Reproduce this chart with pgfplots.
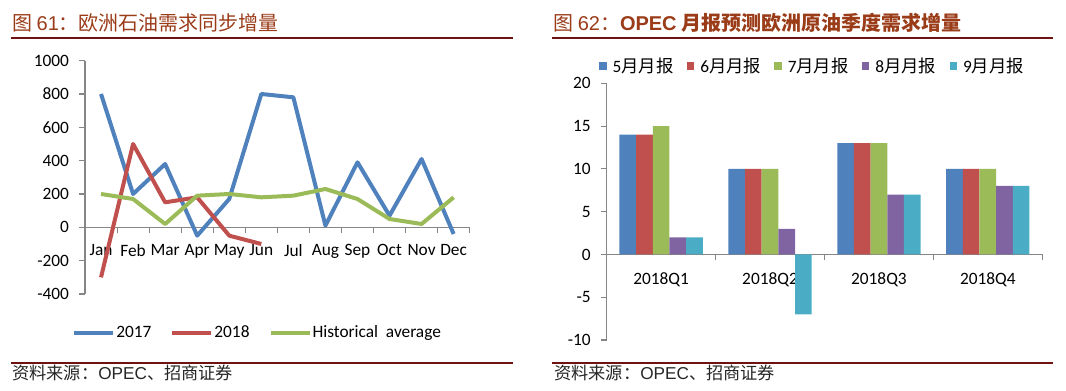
\documentclass[border=0pt]{standalone}
\usepackage{pgfplots}
\pgfplotsset{compat=1.18}
\usepackage{fontspec}
\setmainfont{Carlito}
\newfontfamily\cjk{Noto Sans CJK SC}
\newfontfamily\arial{Liberation Sans}
\definecolor{titlered}{RGB}{155,60,25}
\definecolor{rulered}{RGB}{112,18,18}
\definecolor{axgray}{RGB}{134,134,134}
\definecolor{cblue}{RGB}{79,129,189}
\definecolor{cred}{RGB}{192,80,77}
\definecolor{cgreen}{RGB}{155,187,89}
\definecolor{cpurple}{RGB}{128,100,162}
\definecolor{ccyan}{RGB}{75,172,198}
\newcommand{\lbl}{\fontsize{13}{15.6}\selectfont}
\begin{document}
\begin{tikzpicture}
% ---------- headers and footers ----------
\node[anchor=base west, inner sep=0pt, text=titlered] at (9pt,270.4pt)
  {\fontsize{15}{18}\selectfont\cjk 图 {\arial 61}：欧洲石油需求同步增量};
\node[anchor=base west, inner sep=0pt, text=titlered] at (414.75pt,270.4pt)
  {\fontsize{15}{18}\selectfont{\cjk 图 }{\arial 62}{\cjk ：}{\arial\bfseries OPEC} {\cjk\bfseries 月报预测欧洲原油季度需求增量}};
\draw[rulered, line width=1.5pt] (8.25pt,265pt) -- (384.75pt,265pt);
\draw[rulered, line width=1.5pt] (414.2pt,265pt) -- (789.75pt,265pt);
\draw[rulered, line width=1.5pt] (8.25pt,21.2pt) -- (384.75pt,21.2pt);
\draw[rulered, line width=1.5pt] (414.2pt,21.2pt) -- (789.75pt,21.2pt);
\node[anchor=base west, inner sep=0pt, text=black!85] at (9pt,8.8pt)
  {\fontsize{12.9}{15}\selectfont{\cjk 资料来源：}{\arial OPEC}{\cjk 、招商证券}};
\node[anchor=base west, inner sep=0pt, text=black!85] at (415.5pt,8.8pt)
  {\fontsize{12.9}{15}\selectfont{\cjk 资料来源：}{\arial OPEC}{\cjk 、招商证券}};
% ---------- left chart ----------
\begin{axis}[
  at={(63.75pt,72.75pt)}, anchor=south west,
  scale only axis, width=288.5pt, height=175pt,
  axis y line=left, axis x line=middle,
  axis line style={-, draw=axgray, line width=0.8pt},
  tick align=outside,
  xmin=-0.5, xmax=11.5, ymin=-400, ymax=1000,
  ytick={-400,-200,0,200,400,600,800,1000},
  xtick={-0.5,0.5,...,11.5}, xticklabels={},
  extra x ticks={0,1,...,11},
  extra x tick labels={Jan,Feb,Mar,Apr,May,Jun,Jul,Aug,Sep,Oct,Nov,Dec},
  extra x tick style={major tick length=0pt, xticklabel style={yshift=-9.5pt}},
  major tick length=4.5pt,
  tick style={draw=axgray, line width=0.8pt},
  tick label style={font=\lbl},
  yticklabel style={xshift=-4pt},
  /pgf/number format/assume math mode=true,
  /pgf/number format/1000 sep={},
  legend style={at={(-0.0338,-0.166)}, anchor=west, draw=none, fill=none,
    inner sep=0pt, font=\lbl, legend columns=3,
    /tikz/every odd column/.append style={column sep=0.75pt},
    /tikz/every even column/.append style={column sep=14.25pt},
    nodes={inner sep=0pt}},
  legend image code/.code={\draw[#1, line width=3pt] (0pt,0pt) -- (29.25pt,0pt);},
]
\addplot[cblue, line width=3pt, line join=round] coordinates {
 (0,800) (1,200) (2,380) (3,-50) (4,170) (5,800) (6,780) (7,10) (8,390) (9,70) (10,410) (11,-40)};
\addlegendentry{2017}
\addplot[cred, line width=3pt, line join=round] coordinates {
 (0,-300) (1,500) (2,150) (3,180) (4,-50) (5,-100)};
\addlegendentry{2018}
\addplot[cgreen, line width=3pt, line join=round] coordinates {
 (0,200) (1,170) (2,20) (3,190) (4,200) (5,180) (6,190) (7,230) (8,170) (9,50) (10,20) (11,180)};
\addlegendentry{Historical\ \ average}
\end{axis}
% ---------- right chart ----------
\begin{axis}[
  at={(455pt,38.25pt)}, anchor=south west,
  scale only axis, width=326.7pt, height=192.5pt,
  axis y line=left, axis x line=middle,
  axis line style={-, draw=axgray, line width=0.8pt},
  tick align=outside,
  ybar=0pt, bar width=12.5pt,
  xmin=-0.5, xmax=3.5, ymin=-10, ymax=20,
  ytick={-10,-5,0,5,10,15,20},
  xtick={-0.5,0.5,...,3.5}, xticklabels={},
  extra x ticks={0,1,2,3},
  extra x tick labels={2018Q1,2018Q2,2018Q3,2018Q4},
  extra x tick style={major tick length=0pt, xticklabel style={yshift=-10.5pt}},
  major tick length=4.5pt,
  tick style={draw=axgray, line width=0.8pt},
  tick label style={font=\lbl},
  yticklabel style={xshift=-4pt},
  /pgf/number format/assume math mode=true,
  legend style={at={(-0.0177,1.0674)}, anchor=west, draw=none, fill=none,
    inner sep=0pt, font=\lbl, legend columns=5,
    /tikz/every odd column/.append style={column sep=4.5pt},
    /tikz/every even column/.append style={column sep=10pt},
    nodes={inner sep=0pt}},
  legend image code/.code={\fill[#1, draw=none] (0pt,-2.8pt) rectangle (5.6pt,2.8pt);},
]
\addplot[fill=cblue, draw=none] coordinates {(0,14) (1,10) (2,13) (3,10)};
\addlegendentry{5{\cjk 月月报}}
\addplot[fill=cred, draw=none] coordinates {(0,14) (1,10) (2,13) (3,10)};
\addlegendentry{6{\cjk 月月报}}
\addplot[fill=cgreen, draw=none] coordinates {(0,15) (1,10) (2,13) (3,10)};
\addlegendentry{7{\cjk 月月报}}
\addplot[fill=cpurple, draw=none] coordinates {(0,2) (1,3) (2,7) (3,8)};
\addlegendentry{8{\cjk 月月报}}
\addplot[fill=ccyan, draw=none] coordinates {(0,2) (1,-7) (2,7) (3,8)};
\addlegendentry{9{\cjk 月月报}}
\end{axis}
\pgfresetboundingbox
\path (0pt,0pt) rectangle (799.5pt,293.25pt);
\end{tikzpicture}
\end{document}
